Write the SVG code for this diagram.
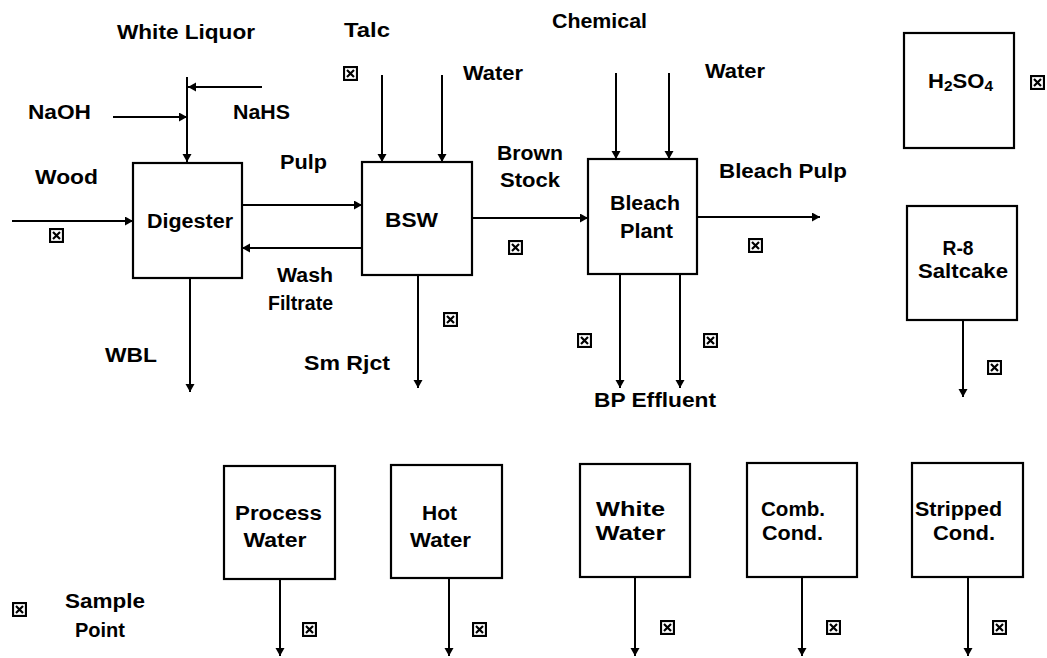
<svg xmlns="http://www.w3.org/2000/svg" xmlns:xlink="http://www.w3.org/1999/xlink" width="1047" height="658" viewBox="0 0 1047 658">
<style>
.box{fill:#fff;stroke:#000;stroke-width:2.2}
.ln{fill:none;stroke:#000;stroke-width:2;marker-end:url(#ah)}
text{font-family:"Liberation Sans",Arial,sans-serif;font-weight:bold;font-size:20px;fill:#000;text-anchor:middle}
.sub{font-size:14px}
</style>
<defs>
<marker id="ah" markerUnits="userSpaceOnUse" markerWidth="10" markerHeight="10" refX="8" refY="4.5" orient="auto">
<path d="M0,0 L8,4.5 L0,9 z" fill="#000"/>
</marker>
<symbol id="sp" viewBox="0 0 15 15">
<rect x="1" y="1" width="13" height="13" fill="#fff" stroke="#000" stroke-width="2.2"/>
<path d="M4,4 L11,11 M11,4 L4,11" stroke="#000" stroke-width="2.2"/>
</symbol>
</defs>
<rect width="1047" height="658" fill="#fff"/>

<g id="connectors">
<line class="ln" x1="12" y1="221" x2="133" y2="221"/>
<line class="ln" x1="113" y1="117" x2="187" y2="117"/>
<line class="ln" x1="262" y1="87" x2="188" y2="87"/>
<line class="ln" x1="187" y1="77" x2="187" y2="162"/>
<line class="ln" x1="242" y1="205" x2="362" y2="205"/>
<line class="ln" x1="362" y1="248" x2="242" y2="248"/>
<line class="ln" x1="190" y1="278" x2="190" y2="392"/>
<line class="ln" x1="382" y1="75" x2="382" y2="162"/>
<line class="ln" x1="442" y1="75" x2="442" y2="162"/>
<line class="ln" x1="472" y1="218" x2="588" y2="218"/>
<line class="ln" x1="418" y1="275" x2="418" y2="388"/>
<line class="ln" x1="616" y1="73" x2="616" y2="159"/>
<line class="ln" x1="669" y1="73" x2="669" y2="159"/>
<line class="ln" x1="697" y1="217" x2="820" y2="217"/>
<line class="ln" x1="620" y1="274" x2="620" y2="388"/>
<line class="ln" x1="680" y1="274" x2="680" y2="388"/>
<line class="ln" x1="963" y1="320" x2="963" y2="397"/>
<line class="ln" x1="280" y1="579" x2="280" y2="656"/>
<line class="ln" x1="449" y1="578" x2="449" y2="656"/>
<line class="ln" x1="635" y1="577" x2="635" y2="656"/>
<line class="ln" x1="802" y1="577" x2="802" y2="656"/>
<line class="ln" x1="968" y1="577" x2="968" y2="656"/>
</g>

<g id="labels">
<text x="186" y="39" textLength="138" lengthAdjust="spacingAndGlyphs">White Liquor</text>
<text x="59.5" y="119" textLength="63" lengthAdjust="spacingAndGlyphs">NaOH</text>
<text x="261.5" y="119" textLength="57" lengthAdjust="spacingAndGlyphs">NaHS</text>
<text x="66.5" y="184" textLength="63" lengthAdjust="spacingAndGlyphs">Wood</text>
<text x="303.5" y="169" textLength="47" lengthAdjust="spacingAndGlyphs">Pulp</text>
<text x="305" y="282" textLength="56" lengthAdjust="spacingAndGlyphs">Wash</text>
<text x="300.5" y="310" textLength="65" lengthAdjust="spacingAndGlyphs">Filtrate</text>
<text x="131" y="362" textLength="52" lengthAdjust="spacingAndGlyphs">WBL</text>
<text x="367" y="37" textLength="46" lengthAdjust="spacingAndGlyphs">Talc</text>
<text x="493" y="80" textLength="60" lengthAdjust="spacingAndGlyphs">Water</text>
<text x="530" y="160" textLength="66" lengthAdjust="spacingAndGlyphs">Brown</text>
<text x="530" y="187" textLength="60" lengthAdjust="spacingAndGlyphs">Stock</text>
<text x="599.5" y="28" textLength="95" lengthAdjust="spacingAndGlyphs">Chemical</text>
<text x="735" y="78" textLength="60" lengthAdjust="spacingAndGlyphs">Water</text>
<text x="783" y="178" textLength="128" lengthAdjust="spacingAndGlyphs">Bleach Pulp</text>
<text x="347" y="370" textLength="86" lengthAdjust="spacingAndGlyphs">Sm Rjct</text>
<text x="655" y="407" textLength="122" lengthAdjust="spacingAndGlyphs">BP Effluent</text>
<text x="105" y="608" textLength="80" lengthAdjust="spacingAndGlyphs">Sample</text>
<text x="100" y="637" textLength="50" lengthAdjust="spacingAndGlyphs">Point</text>
</g>

<g id="digester">
<rect class="box" x="133" y="163" width="109" height="115"/>
<text x="190" y="228" textLength="86" lengthAdjust="spacingAndGlyphs">Digester</text>
</g>
<g id="bsw">
<rect class="box" x="362" y="162" width="110" height="113"/>
<text x="411.5" y="227" textLength="53" lengthAdjust="spacingAndGlyphs">BSW</text>
</g>
<g id="bleach-plant">
<rect class="box" x="588" y="159" width="109" height="115"/>
<text x="645" y="210" textLength="70" lengthAdjust="spacingAndGlyphs">Bleach</text>
<text x="646.5" y="238" textLength="53" lengthAdjust="spacingAndGlyphs">Plant</text>
</g>
<g id="h2so4">
<rect class="box" x="904" y="33" width="110" height="115"/>
<text x="960.5" y="88" textLength="65" lengthAdjust="spacingAndGlyphs">H<tspan class="sub" dy="3">2</tspan><tspan dy="-3">SO</tspan><tspan class="sub" dy="3">4</tspan></text>
</g>
<g id="r8-saltcake">
<rect class="box" x="907" y="206" width="110" height="114"/>
<text x="958" y="255" textLength="31" lengthAdjust="spacingAndGlyphs">R-8</text>
<text x="963" y="278" textLength="90" lengthAdjust="spacingAndGlyphs">Saltcake</text>
</g>
<g id="process-water">
<rect class="box" x="224" y="466" width="111" height="113"/>
<text x="278.5" y="520" textLength="87" lengthAdjust="spacingAndGlyphs">Process</text>
<text x="275" y="547" textLength="63" lengthAdjust="spacingAndGlyphs">Water</text>
</g>
<g id="hot-water">
<rect class="box" x="391" y="465" width="111" height="113"/>
<text x="439.5" y="520" textLength="35" lengthAdjust="spacingAndGlyphs">Hot</text>
<text x="440.5" y="547" textLength="61" lengthAdjust="spacingAndGlyphs">Water</text>
</g>
<g id="white-water">
<rect class="box" x="580" y="464" width="110" height="113"/>
<text x="630.5" y="516" textLength="69" lengthAdjust="spacingAndGlyphs">White</text>
<text x="630.5" y="540" textLength="70" lengthAdjust="spacingAndGlyphs">Water</text>
</g>
<g id="comb-cond">
<rect class="box" x="747" y="463" width="110" height="114"/>
<text x="793" y="516" textLength="64" lengthAdjust="spacingAndGlyphs">Comb.</text>
<text x="792.5" y="540" textLength="61" lengthAdjust="spacingAndGlyphs">Cond.</text>
</g>
<g id="stripped-cond">
<rect class="box" x="912" y="463" width="111" height="114"/>
<text x="958.5" y="516" textLength="87" lengthAdjust="spacingAndGlyphs">Stripped</text>
<text x="964" y="540" textLength="62" lengthAdjust="spacingAndGlyphs">Cond.</text>
</g>

<g id="sample-points">
<use xlink:href="#sp" x="49" y="228" width="15" height="15"/>
<use xlink:href="#sp" x="343" y="66" width="15" height="15"/>
<use xlink:href="#sp" x="508" y="240" width="15" height="15"/>
<use xlink:href="#sp" x="748" y="238" width="15" height="15"/>
<use xlink:href="#sp" x="1030" y="75" width="15" height="15"/>
<use xlink:href="#sp" x="443" y="312" width="15" height="15"/>
<use xlink:href="#sp" x="577" y="333" width="15" height="15"/>
<use xlink:href="#sp" x="703" y="333" width="15" height="15"/>
<use xlink:href="#sp" x="987" y="360" width="15" height="15"/>
<use xlink:href="#sp" x="302" y="622" width="15" height="15"/>
<use xlink:href="#sp" x="472" y="622" width="15" height="15"/>
<use xlink:href="#sp" x="660" y="620" width="15" height="15"/>
<use xlink:href="#sp" x="826" y="620" width="15" height="15"/>
<use xlink:href="#sp" x="992" y="620" width="15" height="15"/>
<use xlink:href="#sp" x="12" y="602" width="15" height="15"/>
</g>
</svg>
